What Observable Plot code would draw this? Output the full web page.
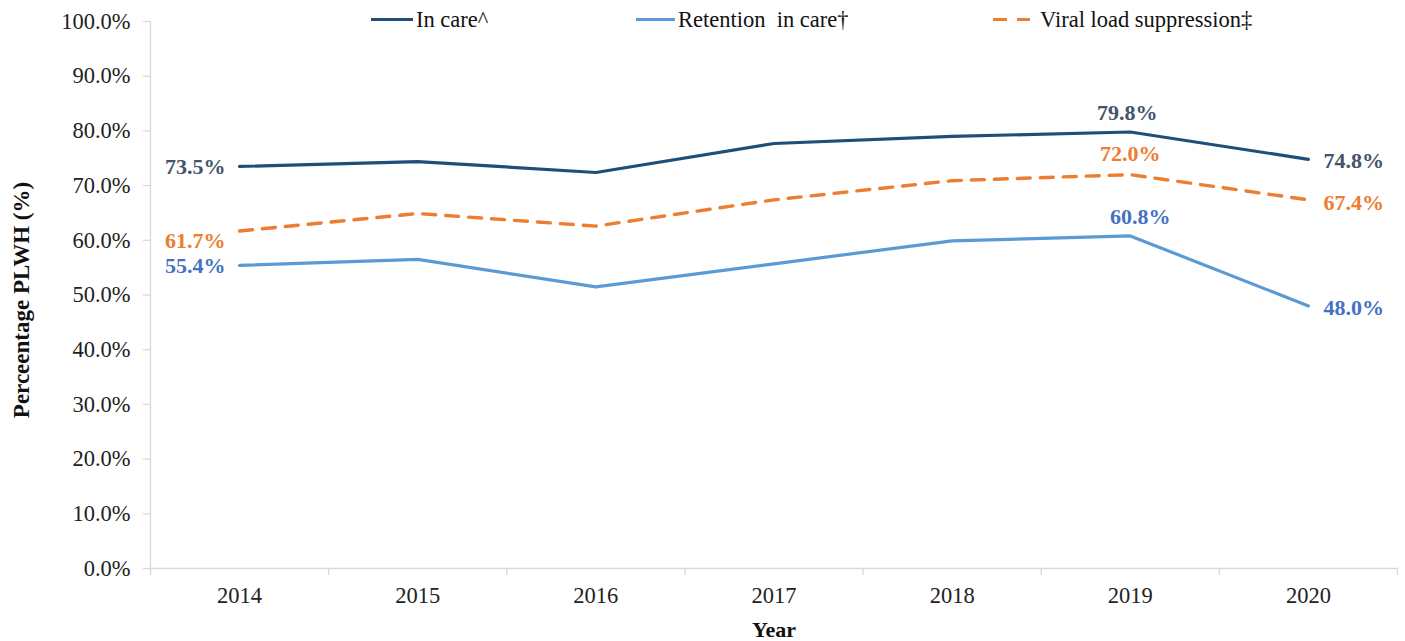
<!DOCTYPE html>
<html>
<head>
<meta charset="utf-8">
<script src="https://cdn.jsdelivr.net/npm/d3@7"></script>
<script src="https://cdn.jsdelivr.net/npm/@observablehq/plot@0.6"></script>
<style>
  html, body { margin: 0; padding: 0; background: #fff; }
  #wrap { position: relative; width: 1405px; height: 641px; font-family: "Liberation Serif", "Times New Roman", serif; }
  .leg { position: absolute; top: 0; height: 40px; font-family: "Liberation Serif", "Times New Roman", serif; font-size: 22.5px; color: #111; white-space: pre; line-height: 40px; }
  .legline { position: absolute; height: 0; }
</style>
</head>
<body>
<div id="wrap"></div>
<script>
// ---- data ----
const years = [2014, 2015, 2016, 2017, 2018, 2019, 2020];
const inCare = [73.5, 74.4, 72.4, 77.7, 79.0, 79.8, 74.8];
const retention = [55.4, 56.5, 51.5, 55.7, 59.9, 60.8, 48.0];
const viralSupp = [61.7, 64.9, 62.6, 67.4, 70.9, 72.0, 67.4];
const seriesNames = ["In care^", "Retention  in care\u2020", "Viral load suppression\u2021"];
const yTicks = [0, 10, 20, 30, 40, 50, 60, 70, 80, 90, 100];
const xTickLabels = ["2014", "2015", "2016", "2017", "2018", "2019", "2020"];
const yLabel = "Perceentage PLWH (%)";
const xLabel = "Year";

const colors = {
  careLine: "#1f4e79", careText: "#44546a",
  retLine: "#5b9bd5", retText: "#4472c4",
  vlLine: "#ed7d31", vlText: "#ed7d31"
};

const rows = (vals, name) => years.map((y, i) => ({year: y, value: vals[i], series: name}));
const careRows = rows(inCare, seriesNames[0]);
const retRows = rows(retention, seriesNames[1]);
const vlRows = rows(viralSupp, seriesNames[2]);

const boundaries = years.map(y => y - 0.5).concat([years[years.length - 1] + 0.5]);
const fmt = d => d.value.toFixed(1) + "%";
const first = r => [r[0]];
const last = r => [r[r.length - 1]];
const peak = r => [r[5]];

const serif = "'Liberation Serif', 'Times New Roman', serif";
const labelStyle = {x: "year", y: "value", text: fmt, fontSize: 22, fontWeight: "bold", fontFamily: serif};

const chart = Plot.plot({
  width: 1405,
  height: 641,
  marginLeft: 150,
  marginRight: 8,
  marginTop: 21,
  marginBottom: 73,
  style: {fontFamily: serif, fontSize: "22px", background: "transparent", color: "#222"},
  x: {type: "linear", domain: [boundaries[0], boundaries[boundaries.length - 1]]},
  y: {domain: [0, 100]},
  marks: [
    Plot.ruleY([0], {stroke: "#d9d9d9", strokeWidth: 1.3}),
    Plot.ruleX([boundaries[0]], {stroke: "#d9d9d9", strokeWidth: 1.3}),
    Plot.axisY({ticks: yTicks, tickSize: 7, stroke: "#d9d9d9", strokeWidth: 1.3, tickFormat: () => "", label: null}),
    Plot.axisY({ticks: yTicks, tickSize: 0, tickPadding: 20, tickFormat: d => d.toFixed(1) + "%", fill: "#222", fontSize: 22.5, fontFamily: serif, label: null}),
    Plot.axisX({ticks: boundaries, tickSize: 7, stroke: "#d9d9d9", strokeWidth: 1.3, tickFormat: () => "", label: null}),
    Plot.axisX({ticks: years, tickSize: 0, tickPadding: 19, tickFormat: d => xTickLabels[years.indexOf(d)], fill: "#222", fontSize: 22.5, fontFamily: serif, label: null}),

    Plot.line(careRows, {x: "year", y: "value", stroke: colors.careLine, strokeWidth: 3.2}),
    Plot.line(retRows, {x: "year", y: "value", stroke: colors.retLine, strokeWidth: 3.2}),
    Plot.line(vlRows, {x: "year", y: "value", stroke: colors.vlLine, strokeWidth: 3.4, strokeDasharray: "13,10"}),

    Plot.text(first(careRows), {...labelStyle, fill: colors.careText, textAnchor: "end", dx: -14, dy: 0}),
    Plot.text(peak(careRows), {...labelStyle, fill: colors.careText, dx: -3, dy: -19}),
    Plot.text(last(careRows), {...labelStyle, fill: colors.careText, textAnchor: "start", dx: 15, dy: 2}),

    Plot.text(first(vlRows), {...labelStyle, fill: colors.vlText, textAnchor: "end", dx: -14, dy: 10}),
    Plot.text(peak(vlRows), {...labelStyle, fill: colors.vlText, dx: 0, dy: -21}),
    Plot.text(last(vlRows), {...labelStyle, fill: colors.vlText, textAnchor: "start", dx: 15, dy: 3}),

    Plot.text(first(retRows), {...labelStyle, fill: colors.retText, textAnchor: "end", dx: -14, dy: 0}),
    Plot.text(peak(retRows), {...labelStyle, fill: colors.retText, dx: 10, dy: -19}),
    Plot.text(last(retRows), {...labelStyle, fill: colors.retText, textAnchor: "start", dx: 15, dy: 2})
  ]
});

const wrap = document.getElementById("wrap");
wrap.appendChild(chart);

// axis titles
const svg = d3.select(chart);
svg.append("text")
  .attr("transform", "translate(24,300) rotate(-90)")
  .attr("text-anchor", "middle")
  .attr("dominant-baseline", "middle")
  .attr("font-family", serif)
  .attr("font-size", 23)
  .attr("font-weight", "bold")
  .attr("fill", "#111")
  .text(yLabel);
svg.append("text")
  .attr("x", 774)
  .attr("y", 637)
  .attr("text-anchor", "middle")
  .attr("font-family", serif)
  .attr("font-size", 22)
  .attr("font-weight", "bold")
  .attr("fill", "#111")
  .text(xLabel);

// legend
const legendItems = [
  {name: seriesNames[0], color: colors.careLine, lineLeft: 371, lineW: 42, textLeft: 416, dash: false},
  {name: seriesNames[1], color: colors.retLine, lineLeft: 636, lineW: 39, textLeft: 678, dash: false},
  {name: seriesNames[2], color: colors.vlLine, lineLeft: 993, lineW: 37, textLeft: 1040, dash: true}
];
legendItems.forEach(it => {
  if (it.dash) {
    [[0, 14], [24, 13]].forEach(([off, w]) => {
      const s = document.createElement("div");
      s.className = "legline";
      s.style.left = (it.lineLeft + off) + "px";
      s.style.top = "18px";
      s.style.width = w + "px";
      s.style.borderTop = "3.4px solid " + it.color;
      wrap.appendChild(s);
    });
  } else {
    const l = document.createElement("div");
    l.className = "legline";
    l.style.left = it.lineLeft + "px";
    l.style.top = "18px";
    l.style.width = it.lineW + "px";
    l.style.borderTop = "3.2px solid " + it.color;
    wrap.appendChild(l);
  }
  const t = document.createElement("div");
  t.className = "leg";
  t.style.left = it.textLeft + "px";
  t.style.top = "0px";
  t.textContent = it.name;
  wrap.appendChild(t);
});
</script>
</body>
</html>
